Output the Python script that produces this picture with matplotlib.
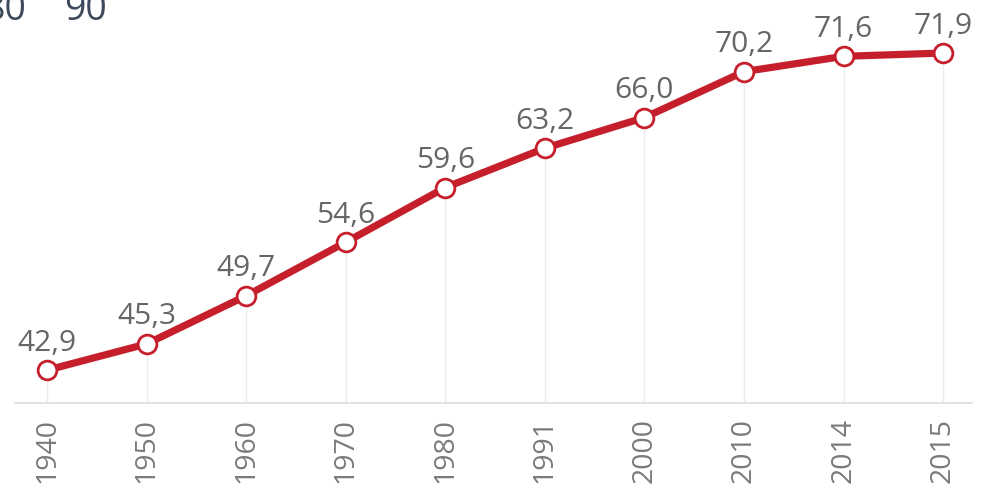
import matplotlib
matplotlib.use("Agg")
import matplotlib.pyplot as plt

plt.rcParams['font.family'] = ['Open Sans', 'DejaVu Sans']

years = ["1940", "1950", "1960", "1970", "1980", "1991", "2000", "2010", "2014", "2015"]
values = [42.9, 45.3, 49.7, 54.6, 59.6, 63.2, 66.0, 70.2, 71.6, 71.9]
top_scale = ["80", "90"]

line_color = "#c61f2c"
label_color = "#666666"
tick_color = "#7a7a7a"

fig = plt.figure(figsize=(9.92, 4.95), dpi=100)
ax = fig.add_axes([15 / 992, 92 / 495, 957 / 992, 403 / 495])

x = list(range(len(years)))
ymin = 39.9
ax.set_xlim(-0.321, 9.29)
ax.set_ylim(ymin, 76.75)

# faint guide lines from the baseline up to each point
ax.vlines(x, ymin, values, color="#ececec", linewidth=1.0, zorder=1)

ax.plot(x, values, color=line_color, linewidth=5.2, solid_capstyle="round",
        marker="o", markersize=13.5, markerfacecolor="white",
        markeredgecolor=line_color, markeredgewidth=2.0, zorder=3)

for xi, v in zip(x, values):
    ax.annotate(f"{v:.1f}".replace(".", ","), (xi, v), xytext=(0, 9),
                textcoords="offset points", ha="center", va="bottom",
                fontsize=21.5, color=label_color, zorder=4)

for side in ["top", "right", "left"]:
    ax.spines[side].set_visible(False)
ax.spines["bottom"].set_color("#dddddd")
ax.spines["bottom"].set_linewidth(1.2)

ax.set_xticks(x)
ax.set_xticklabels(years, rotation=90, fontsize=20.5, color=tick_color)
ax.tick_params(axis="x", length=0, pad=11)
ax.set_yticks([])

fig.text(26 / 992, 1 - 20 / 495, top_scale[0], ha="right", va="baseline",
         fontsize=27, color="#3d4a5c")
fig.text(64 / 992, 1 - 20 / 495, top_scale[1], ha="left", va="baseline",
         fontsize=27, color="#3d4a5c")

fig.savefig("out.png", dpi=100)
